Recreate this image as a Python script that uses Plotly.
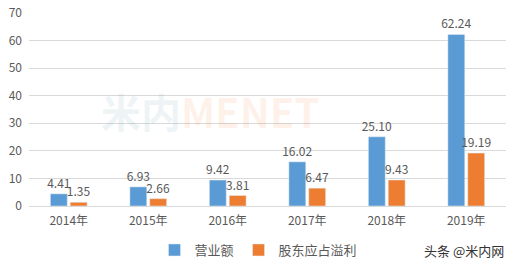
import plotly.graph_objects as go

categories = ["2014年", "2015年", "2016年", "2017年", "2018年", "2019年"]
revenue = [4.41, 6.93, 9.42, 16.02, 25.10, 62.24]
profit = [1.35, 2.66, 3.81, 6.47, 9.43, 19.19]
series_names = ["营业额", "股东应占溢利"]

font_family = "Microsoft YaHei, Noto Sans CJK SC, sans-serif"
txt = "#595959"

fig = go.Figure()
fig.add_bar(x=categories, y=revenue, name=series_names[0], marker_color="#5B9BD5",
            text=[f"{v:.2f}" for v in revenue], textposition="outside", constraintext="none",
            textfont=dict(size=12, color=txt), cliponaxis=False)
fig.add_bar(x=categories, y=profit, name=series_names[1], marker_color="#ED7D31",
            text=[f"{v:.2f}" for v in profit], textposition="outside", constraintext="none",
            textfont=dict(size=12, color=txt), cliponaxis=False)

# faint background watermark
fig.add_annotation(xref="paper", yref="paper", x=0.38, y=0.49, xanchor="center", yanchor="middle",
                   text="<b><span style='color:rgba(120,170,190,0.14)'>米内</span>"
                        "<span style='color:rgba(240,150,90,0.13)'>MENET</span></b>",
                   showarrow=False, font=dict(size=40, family=font_family))
# corner watermark
fig.add_annotation(xref="paper", yref="paper", x=1.0, y=-0.228, xanchor="right", yanchor="middle",
                   text="头条 @米内网", showarrow=False, font=dict(size=13, color="#333333", family=font_family))

fig.update_layout(
    width=517, height=266,
    margin=dict(l=29, r=11, t=13, b=60, autoexpand=False),
    paper_bgcolor="white", plot_bgcolor="white",
    barmode="group", bargap=0.5, bargroupgap=0.15,
    font=dict(family=font_family, color=txt, size=12),
    showlegend=True,
    legend=dict(orientation="h", x=0.5, xref="container", xanchor="center",
                y=16/266, yref="container", yanchor="middle",
                font=dict(size=13, color=txt), itemwidth=30, tracegroupgap=0),
)
fig.update_yaxes(range=[0, 70], dtick=10, showgrid=True, gridcolor="#d9d9d9", gridwidth=1,
                 zeroline=False, showline=False, tickfont=dict(size=12, color=txt), ticks="",
                 ticklabelstandoff=6)
fig.update_xaxes(showline=True, linecolor="#d9d9d9", tickfont=dict(size=12, color=txt), ticks="",
                 ticklabelstandoff=4)

fig.write_html("out.html")
